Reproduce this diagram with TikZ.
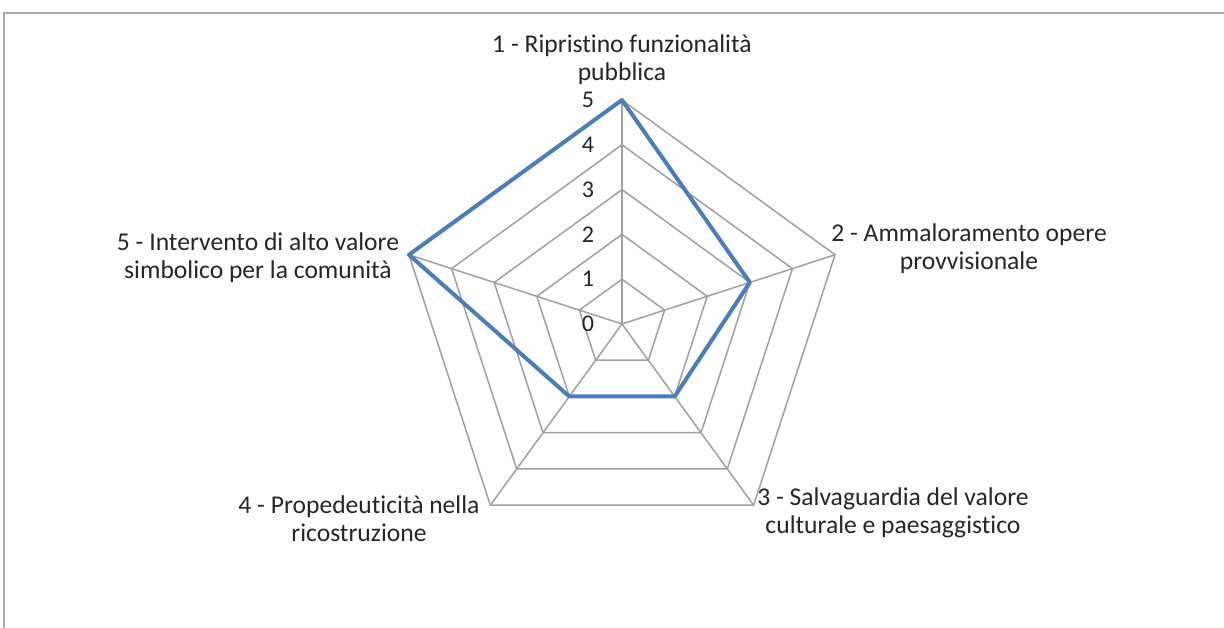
\documentclass[tikz,border=0pt]{standalone}
\usepackage{fontspec}
\setmainfont{Carlito}[Ligatures={NoCommon}]
\definecolor{serieblu}{HTML}{4A7EBB}
\definecolor{griglia}{HTML}{A0A0A0}
\tikzset{
  etichetta/.style={align=center, inner sep=0pt, text=black!85,
    font=\fontsize{12.8}{14}\selectfont},
  scala/.style={inner sep=0pt, text=black!85, font=\fontsize{12}{13}\selectfont}
}
\begin{document}
\begin{tikzpicture}[x=22.4pt,y=22.4pt,line width=0.75pt]
\useasboundingbox (-13.884,-6.786) rectangle (13.4375,7.232);

%% cornice
\draw[griglia!90, line width=1.1pt] (-13.795,-6.9) |- (13.5,6.942);

\coordinate (c) at (0,0);
\foreach \i in {1,...,5}{
	\foreach \k in {1,...,5}{
		\coordinate (v\i\k) at ({90-72*(\i-1)}:\k);
	}
}

%% griglia
\foreach \k in {1,...,5}{
	\draw[griglia] (v1\k)--(v2\k)--(v3\k)--(v4\k)--(v5\k)--cycle;
}
\foreach \i in {1,...,5}{
	\draw[griglia] (c)--(v\i5);
}

%% scala
\foreach \k in {0,...,5}{
	\node[scala] (n\k) at (-0.76,\k) {\k};
}

%% serie
\draw[serieblu, line width=2pt, line join=round] (v15)--(v23)--(v32)--(v42)--(v55)--cycle;

%% etichette
\node[etichetta] (a1) at (0,5.89) {1 - Ripristino funzionalità\\pubblica};
\node[etichetta] (a2) at (7.746,1.674) {2 - Ammaloramento opere\\provvisionale};
\node[etichetta] (a3) at (6.049,-4.219) {3 - Salvaguardia del valore\\culturale e paesaggistico};
\node[etichetta] (a4) at (-5.871,-4.353) {4 - Propedeuticità nella\\ricostruzione};
\node[etichetta] (a5) at (-8.125,1.473) {5 - Intervento di alto valore\\simbolico per la comunità};

\end{tikzpicture}
\end{document}
